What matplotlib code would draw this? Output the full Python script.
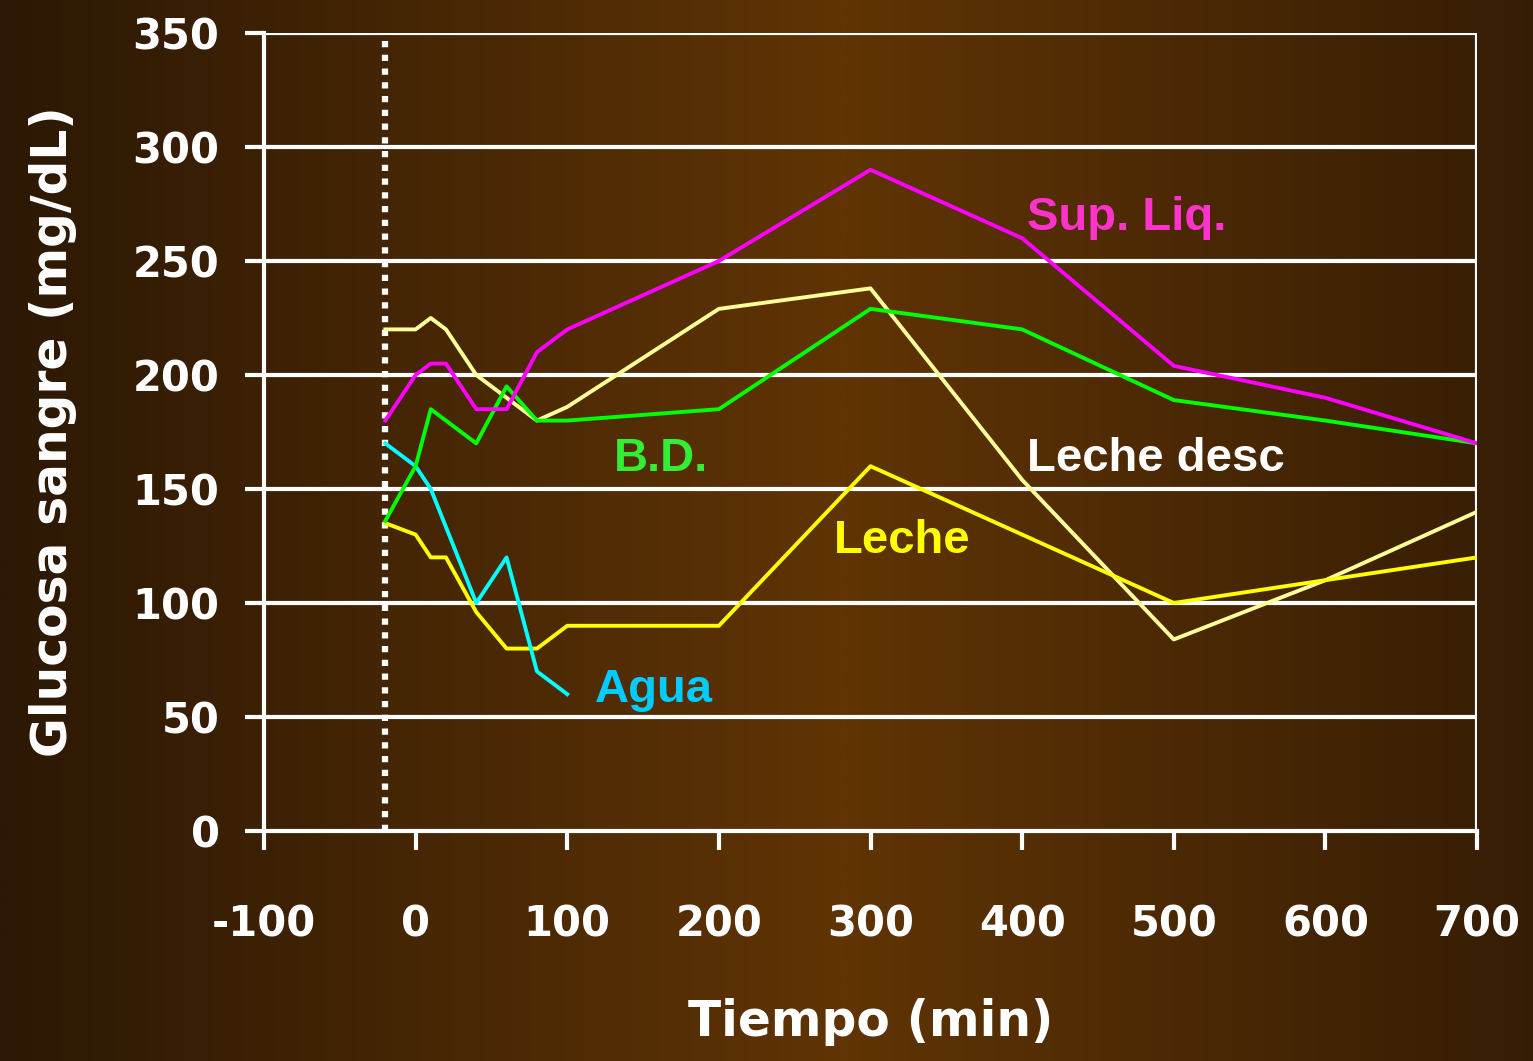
import numpy as np
import matplotlib
matplotlib.use("Agg")
import matplotlib.pyplot as plt
from matplotlib.colors import LinearSegmentedColormap

# glucose curves (mg/dL) vs time (min)
t_sup = [-20, 0, 10, 20, 40, 60, 80, 100, 200, 300, 400, 500, 600, 700]
g_sup = [180, 200, 205, 205, 185, 185, 210, 220, 250, 290, 260, 204, 190, 170]

t_desc = [-20, 0, 10, 20, 40, 60, 80, 100, 200, 300, 400, 500, 600, 700]
g_desc = [220, 220, 225, 220, 200, 190, 180, 186, 229, 238, 154, 84, 110, 140]

t_bd = [-20, 0, 10, 40, 60, 80, 100, 200, 300, 400, 500, 600, 700]
g_bd = [136, 160, 185, 170, 195, 180, 180, 185, 229, 220, 189, 180, 170]

t_leche = [-20, 0, 10, 20, 40, 60, 80, 100, 200, 300, 400, 500, 600, 700]
g_leche = [135, 130, 120, 120, 96, 80, 80, 90, 90, 160, 130, 100, 110, 120]

t_agua = [-20, 0, 10, 40, 60, 80, 100]
g_agua = [170, 160, 150, 100, 120, 70, 60]

x_ticks = [-100, 0, 100, 200, 300, 400, 500, 600, 700]
y_ticks = [0, 50, 100, 150, 200, 250, 300, 350]

fig = plt.figure(figsize=(15.33, 10.61), dpi=100)

# brown horizontal gradient background
bg = fig.add_axes([0, 0, 1, 1])
bg.set_axis_off()
grad = np.linspace(0, 1, 512).reshape(1, -1)
grad = 1 - np.abs(grad - 0.55) / 0.55
bg.imshow(grad, aspect="auto", cmap=LinearSegmentedColormap.from_list("b", ["#2c1804", "#603405"]),
          extent=[0, 1, 0, 1])

ax = fig.add_axes([0.1722, 0.2168, 0.7913, 0.7521])
ax.patch.set_alpha(0)

for y in y_ticks[1:]:
    ax.axhline(y, color="white", lw=3, zorder=1)
ax.axvline(700, color="white", lw=3, zorder=1)
ax.axvline(-20, color="white", lw=4.5, linestyle=(0, (1, 1.2)), zorder=2)

lw = 2.8
ax.plot(t_desc, g_desc, color="#ffff99", lw=lw, zorder=3)
ax.plot(t_leche, g_leche, color="#ffff00", lw=lw, zorder=3)
ax.plot(t_agua, g_agua, color="#00ffff", lw=lw, zorder=3)
ax.plot(t_bd, g_bd, color="#00ff00", lw=lw, zorder=4)
ax.plot(t_sup, g_sup, color="#ff00ff", lw=lw, zorder=5)

lab = dict(family="Liberation Sans", fontweight="bold", fontsize=34, va="center", ha="left")
ax.text(403, 269, "Sup. Liq.", color="#ff33cc", **lab)
ax.text(131, 163, "B.D.", color="#33ee33", **lab)
ax.text(403, 163, "Leche desc", color="white", **lab)
ax.text(276, 127, "Leche", color="#ffff00", **lab)
ax.text(118, 62, "Agua", color="#00ccff", **lab)

ax.set_xlim(-100, 700)
ax.set_ylim(0, 350)
ax.set_xticks(x_ticks)
ax.set_xticklabels([str(v) for v in x_ticks])
ax.set_yticks(y_ticks)
ax.set_yticklabels([str(v) for v in y_ticks])
for s in ["top", "right"]:
    ax.spines[s].set_visible(False)
for s in ["left", "bottom"]:
    ax.spines[s].set_color("white")
    ax.spines[s].set_linewidth(3)
ax.tick_params(axis="x", colors="white", length=14, width=3, pad=38, labelsize=30)
ax.tick_params(axis="y", colors="white", length=14, width=3, pad=18, labelsize=30)
for t in ax.get_xticklabels() + ax.get_yticklabels():
    t.set_fontweight("bold")
    t.set_color("white")

ax.set_xlabel("Tiempo (min)", color="white", fontsize=35, fontweight="bold", labelpad=38)
ax.set_ylabel("Glucosa sangre (mg/dL)", color="white", fontsize=35, fontweight="bold", labelpad=40)

fig.savefig("out.png", dpi=100)
